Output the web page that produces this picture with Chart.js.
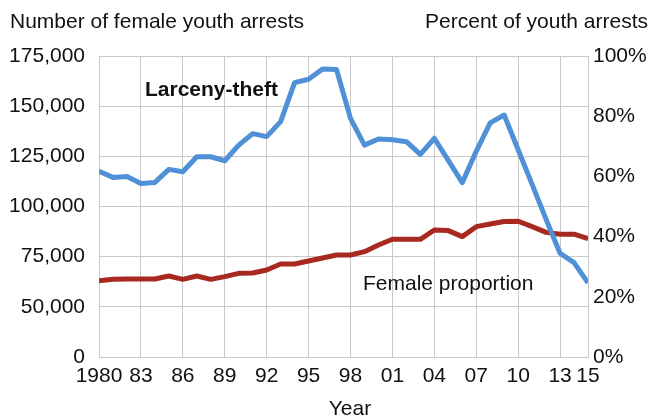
<!DOCTYPE html>
<html>
<head>
<title>Female youth arrests, larceny-theft</title>
<script src="https://cdn.jsdelivr.net/npm/chart.js@4.4.1/dist/chart.umd.min.js"></script>
<style>
  body { margin: 0; background: #fff; }
  #wrap { width: 650px; height: 419px; }
</style>
</head>
<body>
<div id="wrap"><canvas id="arrests"></canvas></div>
<script>
// years on the x axis
const years = [1980, 1981, 1982, 1983, 1984, 1985, 1986, 1987, 1988, 1989,
  1990, 1991, 1992, 1993, 1994, 1995, 1996, 1997, 1998, 1999,
  2000, 2001, 2002, 2003, 2004, 2005, 2006, 2007, 2008, 2009,
  2010, 2011, 2012, 2013, 2014, 2015]

// number of female youth arrests, larceny-theft (left axis)
const larcenyTheft = [117500, 114500, 115000, 111500, 112000, 118500, 117300, 124800, 124800, 122800,
  130600, 136300, 134800, 142300, 161700, 163400, 168500, 168300, 143900, 130600,
  133600, 133300, 132300, 126000, 134000, 123000, 111900, 127500, 141700, 145600,
  128300, 111000, 93600, 76700, 72000, 62000]

// female share of youth arrests, percent (right axis)
const femaleShare = [25.3, 25.8, 25.9, 25.9, 25.9, 26.9, 25.8, 26.9, 25.8, 26.7,
  27.8, 27.9, 28.9, 30.9, 30.9, 31.9, 32.9, 33.9, 33.9, 35.0,
  37.2, 39.1, 39.1, 39.1, 42.2, 42.0, 40.0, 43.3, 44.2, 45.0,
  45.1, 43.3, 41.4, 40.8, 40.8, 39.3]

const xTicks = [1980, 1983, 1986, 1989, 1992, 1995, 1998, 2001, 2004, 2007, 2010, 2013, 2015]
const xTickLabels = ['1980', '83', '86', '89', '92', '95', '98', '01', '04', '07', '10', '13', '15']

const FONT = "'Liberation Sans', Arial, sans-serif"
const GRID = '#c9c9c9'

const labelsPlugin = {
  id: 'labels',
  afterDraw(chart) {
    const ctx = chart.ctx
    ctx.save()
    ctx.fillStyle = '#111'
    ctx.textBaseline = 'middle'
    ctx.font = '21px ' + FONT
    ctx.textAlign = 'left'
    ctx.fillText('Number of female youth arrests', 10, 22)
    ctx.fillText('Female proportion', 363, 284)
    ctx.textAlign = 'right'
    ctx.fillText('Percent of youth arrests', 648, 22)
    ctx.textAlign = 'center'
    ctx.fillText('Year', 350, 409)
    ctx.font = 'bold 21px ' + FONT
    ctx.textAlign = 'left'
    ctx.fillText('Larceny-theft', 145, 90)
    ctx.restore()
  }
}

new Chart(document.getElementById('arrests'), {
  type: 'line',
  data: {
    datasets: [{
      label: 'Larceny-theft',
      data: years.map((y, i) => ({ x: y, y: larcenyTheft[i] })),
      yAxisID: 'y',
      borderColor: '#4f90d6',
      borderWidth: 5,
      pointRadius: 0,
      tension: 0,
      borderJoinStyle: 'round'
    }, {
      label: 'Female proportion',
      data: years.map((y, i) => ({ x: y, y: femaleShare[i] })),
      yAxisID: 'y2',
      borderColor: '#a8291f',
      borderWidth: 5,
      pointRadius: 0,
      tension: 0,
      borderJoinStyle: 'round'
    }]
  },
  options: {
    responsive: true,
    maintainAspectRatio: false,
    animation: false,
    layout: { padding: { top: 56, left: 0, right: 0, bottom: 0 } },
    plugins: {
      legend: { display: false },
      tooltip: { enabled: false }
    },
    scales: {
      x: {
        type: 'linear',
        min: 1980,
        max: 2015,
        afterBuildTicks: s => { s.ticks = xTicks.map(v => ({ value: v })) },
        afterFit: s => { s.height = 62 },
        ticks: {
          autoSkip: false,
          maxRotation: 0,
          padding: 7,
          color: '#111',
          font: { family: FONT, size: 21 },
          callback: v => xTickLabels[xTicks.indexOf(v)]
        },
        grid: { color: GRID, drawTicks: false },
        border: { color: GRID }
      },
      y: {
        position: 'left',
        min: 25000,
        max: 175000,
        afterFit: s => { s.width = 99 },
        ticks: {
          stepSize: 25000,
          padding: 14,
          color: '#111',
          font: { family: FONT, size: 21 },
          // bottom gridline is labelled 0 in the original
          callback: v => v === 25000 ? '0' : v.toLocaleString('en-US')
        },
        grid: { color: GRID, drawTicks: false },
        border: { color: GRID }
      },
      y2: {
        position: 'right',
        min: 0,
        max: 100,
        afterFit: s => { s.width = 62 },
        ticks: {
          stepSize: 20,
          padding: 5,
          color: '#111',
          font: { family: FONT, size: 21 },
          callback: v => v + '%'
        },
        grid: { display: false, drawTicks: false },
        border: { display: false }
      }
    }
  },
  plugins: [labelsPlugin]
})
</script>
</body>
</html>
